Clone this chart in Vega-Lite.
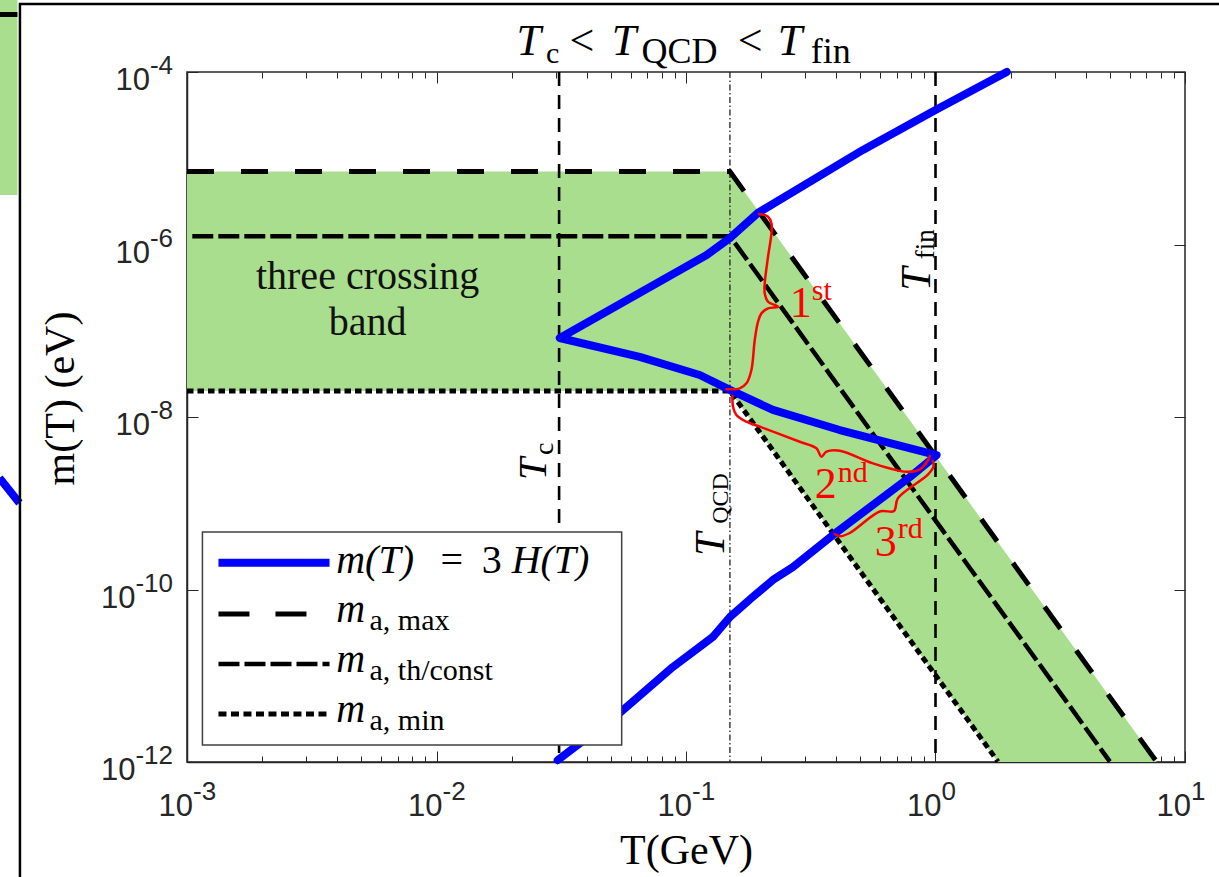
{
  "$schema": "https://vega.github.io/schema/vega-lite/v6.json",
  "width": 998,
  "height": 690,
  "autosize": {"type": "none"},
  "padding": {"left": 187, "top": 72, "right": 34, "bottom": 115},
  "background": "white",
  "config": {
    "view": {"stroke": "#262626", "strokeWidth": 1.5},
    "axis": {"grid": false, "labels": false, "tickColor": "#262626", "domainColor": "#262626", "domainWidth": 1.5, "titleFont": "Liberation Serif", "titleFontWeight": "normal", "titleColor": "#000000"}
  },
  "datasets": {
    "band": [
      {"T": 0.001, "m": 7e-6, "m2": 2e-8},
      {"T": 0.15, "m": 7e-6, "m2": 2e-8},
      {"T": 1.78, "m": 3.53e-10, "m2": 1e-12},
      {"T": 7.71, "m": 1e-12, "m2": 1e-12}
    ],
    "bounds": [
      {"s": "max", "o": 1, "T": 0.001, "m": 7e-6},
      {"s": "max", "o": 2, "T": 0.15, "m": 7e-6},
      {"s": "max", "o": 3, "T": 7.71, "m": 1e-12},
      {"s": "th", "o": 1, "T": 0.00105, "m": 1.25e-6},
      {"s": "th", "o": 2, "T": 0.15, "m": 1.25e-6},
      {"s": "th", "o": 3, "T": 5.0, "m": 1.01e-12},
      {"s": "min", "o": 1, "T": 0.001, "m": 2e-8},
      {"s": "min", "o": 2, "T": 0.15, "m": 2e-8},
      {"s": "min", "o": 3, "T": 1.78, "m": 1.01e-12}
    ],
    "curve": [
      {"o": 1, "T": 1.93, "m": 1.0e-4},
      {"o": 2, "T": 1.0, "m": 3.62e-5},
      {"o": 3, "T": 0.512, "m": 1.25e-5},
      {"o": 4, "T": 0.194, "m": 2.32e-6},
      {"o": 5, "T": 0.150, "m": 1.19e-6},
      {"o": 6, "T": 0.121, "m": 7.55e-7},
      {"o": 7, "T": 0.0312, "m": 8.24e-8},
      {"o": 8, "T": 0.0652, "m": 4.97e-8},
      {"o": 9, "T": 0.1135, "m": 3.07e-8},
      {"o": 10, "T": 0.150, "m": 2.06e-8},
      {"o": 11, "T": 0.223, "m": 1.21e-8},
      {"o": 12, "T": 0.413, "m": 7.06e-9},
      {"o": 13, "T": 1.01, "m": 3.62e-9},
      {"o": 14, "T": 0.789, "m": 2.01e-9},
      {"o": 15, "T": 0.388, "m": 4.28e-10},
      {"o": 16, "T": 0.268, "m": 1.82e-10},
      {"o": 17, "T": 0.223, "m": 1.29e-10},
      {"o": 18, "T": 0.185, "m": 8.18e-11},
      {"o": 19, "T": 0.150, "m": 4.8e-11},
      {"o": 20, "T": 0.128, "m": 2.81e-11},
      {"o": 21, "T": 0.0885, "m": 1.26e-11},
      {"o": 22, "T": 0.0542, "m": 3.7e-12},
      {"o": 23, "T": 0.0306, "m": 1.05e-12}
    ],
    "braces": [
      {"b": 1, "o": 1, "T": 0.1962, "m": 2.257e-6},
      {"b": 1, "o": 2, "T": 0.2132, "m": 2.101e-6},
      {"b": 1, "o": 3, "T": 0.2200, "m": 1.761e-6},
      {"b": 1, "o": 4, "T": 0.2200, "m": 1.349e-6},
      {"b": 1, "o": 5, "T": 0.2132, "m": 7.22e-7},
      {"b": 1, "o": 6, "T": 0.2068, "m": 3.55e-7},
      {"b": 1, "o": 7, "T": 0.2068, "m": 2.72e-7},
      {"b": 1, "o": 8, "T": 0.2132, "m": 2.17e-7},
      {"b": 1, "o": 9, "T": 0.2338, "m": 1.90e-7},
      {"b": 1, "o": 10, "T": 0.2132, "m": 1.82e-7},
      {"b": 1, "o": 11, "T": 0.2006, "m": 1.59e-7},
      {"b": 1, "o": 12, "T": 0.1944, "m": 1.273e-7},
      {"b": 1, "o": 13, "T": 0.1886, "m": 7.81e-8},
      {"b": 1, "o": 14, "T": 0.1829, "m": 3.51e-8},
      {"b": 1, "o": 15, "T": 0.1747, "m": 2.46e-8},
      {"b": 1, "o": 16, "T": 0.1642, "m": 2.15e-8},
      {"b": 1, "o": 17, "T": 0.1452, "m": 2.10e-8},
      {"b": 2, "o": 1, "T": 0.1535, "m": 1.752e-8},
      {"b": 2, "o": 2, "T": 0.1543, "m": 1.316e-8},
      {"b": 2, "o": 3, "T": 0.1592, "m": 1.055e-8},
      {"b": 2, "o": 4, "T": 0.1747, "m": 8.82e-9},
      {"b": 2, "o": 5, "T": 0.1975, "m": 7.72e-9},
      {"b": 2, "o": 6, "T": 0.2857, "m": 5.17e-9},
      {"b": 2, "o": 7, "T": 0.3333, "m": 4.34e-9},
      {"b": 2, "o": 8, "T": 0.3490, "m": 3.46e-9},
      {"b": 2, "o": 9, "T": 0.3655, "m": 3.96e-9},
      {"b": 2, "o": 10, "T": 0.4134, "m": 4.07e-9},
      {"b": 2, "o": 11, "T": 0.5622, "m": 2.90e-9},
      {"b": 2, "o": 12, "T": 0.7650, "m": 2.32e-9},
      {"b": 2, "o": 13, "T": 0.8650, "m": 2.47e-9},
      {"b": 2, "o": 14, "T": 0.9340, "m": 3.17e-9},
      {"b": 2, "o": 15, "T": 0.9487, "m": 3.53e-9},
      {"b": 3, "o": 1, "T": 0.9754, "m": 3.09e-9},
      {"b": 3, "o": 2, "T": 0.9808, "m": 2.65e-9},
      {"b": 3, "o": 3, "T": 0.9322, "m": 2.15e-9},
      {"b": 3, "o": 4, "T": 0.7072, "m": 1.147e-9},
      {"b": 3, "o": 5, "T": 0.6816, "m": 8.11e-10},
      {"b": 3, "o": 6, "T": 0.6013, "m": 8.07e-10},
      {"b": 3, "o": 7, "T": 0.4512, "m": 4.49e-10},
      {"b": 3, "o": 8, "T": 0.4149, "m": 4.15e-10},
      {"b": 3, "o": 9, "T": 0.3946, "m": 4.40e-10}
    ],
    "xticks": [
      {"T": 0.001, "e": "-3"}, {"T": 0.01, "e": "-2"}, {"T": 0.1, "e": "-1"}, {"T": 1, "e": "0"}, {"T": 10, "e": "1"}
    ],
    "yticks": [
      {"m": 1e-12, "e": "-12"}, {"m": 1e-10, "e": "-10"}, {"m": 1e-8, "e": "-8"}, {"m": 1e-6, "e": "-6"}, {"m": 0.0001, "e": "-4"}
    ]
  },
  "layer": [
    {
      "layer": [
        {
          "data": {"name": "band"},
          "mark": {"type": "area", "color": "#a9de8f", "opacity": 1},
          "encoding": {
            "x": {"field": "T", "type": "quantitative", "scale": {"type": "log", "domain": [0.001, 10], "nice": false},
              "axis": {"orient": "bottom", "title": "T(GeV)", "titleFontSize": 42, "titlePadding": 68,
                "values": [0.001,0.002,0.003,0.004,0.005,0.006,0.007,0.008,0.009,0.01,0.02,0.03,0.04,0.05,0.06,0.07,0.08,0.09,0.1,0.2,0.3,0.4,0.5,0.6,0.7,0.8,0.9,1,2,3,4,5,6,7,8,9,10],
                "tickWidth": 1,
                "tickSize": {"condition": {"test": "abs(log(datum.value)/LN10 - round(log(datum.value)/LN10)) < 0.001", "value": -11}, "value": -6}}},
            "y": {"field": "m", "type": "quantitative", "scale": {"type": "log", "domain": [1e-12, 0.0001], "nice": false},
              "axis": {"orient": "left", "title": "m(T) (eV)", "titleFontSize": 42, "titlePadding": 104, "titleY": 326,
                "values": [1e-12, 1e-10, 1e-8, 1e-6, 0.0001], "tickWidth": 1, "tickSize": -11}},
            "y2": {"field": "m2"}
          }
        },
        {
          "data": {"values": [{}]},
          "mark": {"type": "rule", "color": "black", "strokeWidth": 2.6, "strokeDash": [14, 9]},
          "encoding": {"x": {"datum": 0.031, "type": "quantitative"}}
        },
        {
          "data": {"values": [{}]},
          "mark": {"type": "rule", "color": "black", "strokeWidth": 2.6, "strokeDash": [14, 9]},
          "encoding": {"x": {"datum": 1.0, "type": "quantitative"}}
        },
        {
          "data": {"values": [{}]},
          "mark": {"type": "rule", "color": "#222222", "strokeWidth": 1.3, "strokeDash": [6, 2.5, 1.5, 2.5]},
          "encoding": {"x": {"datum": 0.15, "type": "quantitative"}}
        },
        {
          "data": {"name": "bounds"},
          "transform": [{"filter": "datum.s == 'min'"}],
          "mark": {"type": "line", "color": "black", "strokeWidth": 5, "strokeDash": [6.5, 4], "strokeCap": "butt"},
          "encoding": {"x": {"field": "T", "type": "quantitative"}, "y": {"field": "m", "type": "quantitative"}, "order": {"field": "o"}}
        },
        {
          "data": {"name": "bounds"},
          "transform": [{"filter": "datum.s == 'th'"}],
          "mark": {"type": "line", "color": "black", "strokeWidth": 4.5, "strokeDash": [21, 5], "strokeCap": "butt"},
          "encoding": {"x": {"field": "T", "type": "quantitative"}, "y": {"field": "m", "type": "quantitative"}, "order": {"field": "o"}}
        },
        {
          "data": {"name": "bounds"},
          "transform": [{"filter": "datum.s == 'max'"}],
          "mark": {"type": "line", "color": "black", "strokeWidth": 5, "strokeDash": [27, 27], "strokeCap": "butt"},
          "encoding": {"x": {"field": "T", "type": "quantitative"}, "y": {"field": "m", "type": "quantitative"}, "order": {"field": "o"}}
        },
        {
          "data": {"name": "curve"},
          "mark": {"type": "line", "color": "#0000ff", "strokeWidth": 8, "strokeCap": "round", "strokeJoin": "round"},
          "encoding": {"x": {"field": "T", "type": "quantitative"}, "y": {"field": "m", "type": "quantitative"}, "order": {"field": "o"}}
        },
        {
          "data": {"name": "braces"},
          "mark": {"type": "line", "color": "#ff0000", "strokeWidth": 2.5, "interpolate": "catmull-rom", "strokeCap": "round"},
          "encoding": {"x": {"field": "T", "type": "quantitative"}, "y": {"field": "m", "type": "quantitative"}, "detail": {"field": "b"}, "order": {"field": "o"}}
        },
        {
          "data": {"name": "xticks"},
          "mark": {"type": "text", "text": "10", "font": "Liberation Sans", "fontSize": 31, "align": "right", "baseline": "alphabetic", "dx": 6, "dy": 54, "color": "#262626"},
          "encoding": {"x": {"field": "T", "type": "quantitative"}, "y": {"datum": 1e-12, "type": "quantitative"}}
        },
        {
          "data": {"name": "xticks"},
          "mark": {"type": "text", "font": "Liberation Sans", "fontSize": 26, "align": "left", "baseline": "alphabetic", "dx": 6, "dy": 38, "color": "#262626"},
          "encoding": {"x": {"field": "T", "type": "quantitative"}, "y": {"datum": 1e-12, "type": "quantitative"}, "text": {"field": "e"}}
        },
        {
          "data": {"name": "yticks"},
          "transform": [{"filter": "length(datum.e) == 2"}],
          "mark": {"type": "text", "text": "10", "font": "Liberation Sans", "fontSize": 31, "align": "right", "baseline": "alphabetic", "dx": -37, "dy": 18, "color": "#262626"},
          "encoding": {"x": {"datum": 0.001, "type": "quantitative"}, "y": {"field": "m", "type": "quantitative"}}
        },
        {
          "data": {"name": "yticks"},
          "transform": [{"filter": "length(datum.e) == 3"}],
          "mark": {"type": "text", "text": "10", "font": "Liberation Sans", "fontSize": 31, "align": "right", "baseline": "alphabetic", "dx": -51.5, "dy": 18, "color": "#262626"},
          "encoding": {"x": {"datum": 0.001, "type": "quantitative"}, "y": {"field": "m", "type": "quantitative"}}
        },
        {
          "data": {"name": "yticks"},
          "mark": {"type": "text", "font": "Liberation Sans", "fontSize": 26, "align": "right", "baseline": "alphabetic", "dx": -14, "dy": 2, "color": "#262626"},
          "encoding": {"x": {"datum": 0.001, "type": "quantitative"}, "y": {"field": "m", "type": "quantitative"}, "text": {"field": "e"}}
        },
        {
          "data": {"values": [{}]},
          "mark": {"type": "text", "text": ["three crossing", "band"], "font": "Liberation Serif", "fontSize": 40, "lineHeight": 46, "align": "center", "baseline": "alphabetic", "color": "#111111"},
          "encoding": {"x": {"datum": 0.005293, "type": "quantitative"}, "y": {"datum": 3.05e-7, "type": "quantitative"}}
        },
        {"data": {"values": [{}]}, "mark": {"type": "text", "text": "1", "font": "Liberation Serif", "fontSize": 44, "align": "left", "baseline": "alphabetic", "color": "#ff0000"}, "encoding": {"x": {"datum": 0.2605, "type": "quantitative"}, "y": {"datum": 1.443e-7, "type": "quantitative"}}},
        {"data": {"values": [{}]}, "mark": {"type": "text", "text": "st", "font": "Liberation Serif", "fontSize": 30, "align": "left", "baseline": "alphabetic", "color": "#ff0000"}, "encoding": {"x": {"datum": 0.3192, "type": "quantitative"}, "y": {"datum": 2.273e-7, "type": "quantitative"}}},
        {"data": {"values": [{}]}, "mark": {"type": "text", "text": "2", "font": "Liberation Serif", "fontSize": 44, "align": "left", "baseline": "alphabetic", "color": "#ff0000"}, "encoding": {"x": {"datum": 0.3281, "type": "quantitative"}, "y": {"datum": 1.150e-9, "type": "quantitative"}}},
        {"data": {"values": [{}]}, "mark": {"type": "text", "text": "nd", "font": "Liberation Serif", "fontSize": 30, "align": "left", "baseline": "alphabetic", "color": "#ff0000"}, "encoding": {"x": {"datum": 0.4057, "type": "quantitative"}, "y": {"datum": 1.764e-9, "type": "quantitative"}}},
        {"data": {"values": [{}]}, "mark": {"type": "text", "text": "3", "font": "Liberation Serif", "fontSize": 44, "align": "left", "baseline": "alphabetic", "color": "#ff0000"}, "encoding": {"x": {"datum": 0.5709, "type": "quantitative"}, "y": {"datum": 2.445e-10, "type": "quantitative"}}},
        {"data": {"values": [{}]}, "mark": {"type": "text", "text": "rd", "font": "Liberation Serif", "fontSize": 30, "align": "left", "baseline": "alphabetic", "color": "#ff0000"}, "encoding": {"x": {"datum": 0.7061, "type": "quantitative"}, "y": {"datum": 3.955e-10, "type": "quantitative"}}},
        {"data": {"values": [{}]}, "mark": {"type": "text", "text": "T", "font": "Liberation Serif", "fontSize": 40, "fontStyle": "italic", "angle": 270, "align": "left", "baseline": "alphabetic", "color": "black"}, "encoding": {"x": {"datum": 0.02738, "type": "quantitative"}, "y": {"datum": 1.86e-9, "type": "quantitative"}}},
        {"data": {"values": [{}]}, "mark": {"type": "text", "text": "c", "font": "Liberation Serif", "fontSize": 28, "angle": 270, "align": "left", "baseline": "alphabetic", "color": "black"}, "encoding": {"x": {"datum": 0.02921, "type": "quantitative"}, "y": {"datum": 3.63e-9, "type": "quantitative"}}},
        {"data": {"values": [{}]}, "mark": {"type": "text", "text": "T", "font": "Liberation Serif", "fontSize": 42, "fontStyle": "italic", "angle": 270, "align": "left", "baseline": "alphabetic", "color": "black"}, "encoding": {"x": {"datum": 0.1416, "type": "quantitative"}, "y": {"datum": 2.445e-10, "type": "quantitative"}}},
        {"data": {"values": [{}]}, "mark": {"type": "text", "text": "QCD", "font": "Liberation Serif", "fontSize": 24, "angle": 270, "align": "left", "baseline": "alphabetic", "color": "black"}, "encoding": {"x": {"datum": 0.1470, "type": "quantitative"}, "y": {"datum": 5.77e-10, "type": "quantitative"}}},
        {"data": {"values": [{}]}, "mark": {"type": "text", "text": "T", "font": "Liberation Serif", "fontSize": 42, "fontStyle": "italic", "angle": 270, "align": "left", "baseline": "alphabetic", "color": "black"}, "encoding": {"x": {"datum": 0.9487, "type": "quantitative"}, "y": {"datum": 2.90e-7, "type": "quantitative"}}},
        {"data": {"values": [{}]}, "mark": {"type": "text", "text": "fin", "font": "Liberation Serif", "fontSize": 27, "angle": 270, "align": "left", "baseline": "alphabetic", "color": "black"}, "encoding": {"x": {"datum": 0.9844, "type": "quantitative"}, "y": {"datum": 6.74e-7, "type": "quantitative"}}},
        {"data": {"values": [{}]}, "mark": {"type": "text", "text": "T", "font": "Liberation Serif", "fontSize": 44, "fontStyle": "italic", "align": "left", "baseline": "alphabetic", "color": "black"}, "encoding": {"x": {"datum": 0.02094, "type": "quantitative"}, "y": {"datum": 1.574e-4, "type": "quantitative"}}},
        {"data": {"values": [{}]}, "mark": {"type": "text", "text": "c", "font": "Liberation Serif", "fontSize": 30, "align": "left", "baseline": "alphabetic", "color": "black"}, "encoding": {"x": {"datum": 0.02745, "type": "quantitative"}, "y": {"datum": 1.271e-4, "type": "quantitative"}}},
        {"data": {"values": [{}]}, "mark": {"type": "text", "text": "<", "font": "Liberation Serif", "fontSize": 44, "align": "left", "baseline": "alphabetic", "color": "black"}, "encoding": {"x": {"datum": 0.03416, "type": "quantitative"}, "y": {"datum": 1.574e-4, "type": "quantitative"}}},
        {"data": {"values": [{}]}, "mark": {"type": "text", "text": "T", "font": "Liberation Serif", "fontSize": 44, "fontStyle": "italic", "align": "left", "baseline": "alphabetic", "color": "black"}, "encoding": {"x": {"datum": 0.05038, "type": "quantitative"}, "y": {"datum": 1.574e-4, "type": "quantitative"}}},
        {"data": {"values": [{}]}, "mark": {"type": "text", "text": "QCD", "font": "Liberation Serif", "fontSize": 36, "align": "left", "baseline": "alphabetic", "color": "black"}, "encoding": {"x": {"datum": 0.06636, "type": "quantitative"}, "y": {"datum": 1.271e-4, "type": "quantitative"}}},
        {"data": {"values": [{}]}, "mark": {"type": "text", "text": "<", "font": "Liberation Serif", "fontSize": 44, "align": "left", "baseline": "alphabetic", "color": "black"}, "encoding": {"x": {"datum": 0.1611, "type": "quantitative"}, "y": {"datum": 1.574e-4, "type": "quantitative"}}},
        {"data": {"values": [{}]}, "mark": {"type": "text", "text": "T", "font": "Liberation Serif", "fontSize": 44, "fontStyle": "italic", "align": "left", "baseline": "alphabetic", "color": "black"}, "encoding": {"x": {"datum": 0.2331, "type": "quantitative"}, "y": {"datum": 1.574e-4, "type": "quantitative"}}},
        {"data": {"values": [{}]}, "mark": {"type": "text", "text": "fin", "font": "Liberation Serif", "fontSize": 36, "align": "left", "baseline": "alphabetic", "color": "black"}, "encoding": {"x": {"datum": 0.3161, "type": "quantitative"}, "y": {"datum": 1.271e-4, "type": "quantitative"}}},
        {
          "data": {"values": [{}]},
          "mark": {"type": "rect", "fill": "white", "stroke": "#404040", "strokeWidth": 1.5},
          "encoding": {"x": {"datum": 0.001153, "type": "quantitative"}, "x2": {"datum": 0.05523}, "y": {"datum": 4.64e-10, "type": "quantitative"}, "y2": {"datum": 1.574e-12}}
        },
        {"data": {"values": [{}]}, "mark": {"type": "rule", "color": "#0000ff", "strokeWidth": 8}, "encoding": {"x": {"datum": 0.001337, "type": "quantitative"}, "x2": {"datum": 0.003726}, "y": {"datum": 2.045e-10, "type": "quantitative"}}},
        {"data": {"values": [{}]}, "mark": {"type": "rule", "color": "black", "strokeWidth": 5, "strokeDash": [31, 26]}, "encoding": {"x": {"datum": 0.001337, "type": "quantitative"}, "x2": {"datum": 0.003726}, "y": {"datum": 5.20e-11, "type": "quantitative"}}},
        {"data": {"values": [{}]}, "mark": {"type": "rule", "color": "black", "strokeWidth": 4.5, "strokeDash": [21, 5]}, "encoding": {"x": {"datum": 0.001337, "type": "quantitative"}, "x2": {"datum": 0.003726}, "y": {"datum": 1.368e-11, "type": "quantitative"}}},
        {"data": {"values": [{}]}, "mark": {"type": "rule", "color": "black", "strokeWidth": 5, "strokeDash": [8, 4.5]}, "encoding": {"x": {"datum": 0.001337, "type": "quantitative"}, "x2": {"datum": 0.003726}, "y": {"datum": 3.60e-12, "type": "quantitative"}}},
        {"data": {"values": [{}]}, "mark": {"type": "text", "text": "m(T)", "font": "Liberation Serif", "fontSize": 40, "fontStyle": "italic", "align": "left", "baseline": "alphabetic", "color": "black"}, "encoding": {"x": {"datum": 0.003964, "type": "quantitative"}, "y": {"datum": 1.553e-10, "type": "quantitative"}}},
        {"data": {"values": [{}]}, "mark": {"type": "text", "text": "=", "font": "Liberation Serif", "fontSize": 40, "align": "center", "baseline": "alphabetic", "color": "black"}, "encoding": {"x": {"datum": 0.011523, "type": "quantitative"}, "y": {"datum": 1.553e-10, "type": "quantitative"}}},
        {"data": {"values": [{}]}, "mark": {"type": "text", "text": "3", "font": "Liberation Serif", "fontSize": 40, "align": "center", "baseline": "alphabetic", "color": "black"}, "encoding": {"x": {"datum": 0.016667, "type": "quantitative"}, "y": {"datum": 1.553e-10, "type": "quantitative"}}},
        {"data": {"values": [{}]}, "mark": {"type": "text", "text": "H(T)", "font": "Liberation Serif", "fontSize": 40, "fontStyle": "italic", "align": "left", "baseline": "alphabetic", "color": "black"}, "encoding": {"x": {"datum": 0.020005, "type": "quantitative"}, "y": {"datum": 1.553e-10, "type": "quantitative"}}},
        {"data": {"values": [{}]}, "mark": {"type": "text", "text": "m", "font": "Liberation Serif", "fontSize": 40, "fontStyle": "italic", "align": "left", "baseline": "alphabetic", "color": "black"}, "encoding": {"x": {"datum": 0.003964, "type": "quantitative"}, "y": {"datum": 4.23e-11, "type": "quantitative"}}},
        {"data": {"values": [{}]}, "mark": {"type": "text", "text": "a, max", "font": "Liberation Serif", "fontSize": 30, "align": "left", "baseline": "alphabetic", "color": "black"}, "encoding": {"x": {"datum": 0.005391, "type": "quantitative"}, "y": {"datum": 3.39e-11, "type": "quantitative"}}},
        {"data": {"values": [{}]}, "mark": {"type": "text", "text": "m", "font": "Liberation Serif", "fontSize": 40, "fontStyle": "italic", "align": "left", "baseline": "alphabetic", "color": "black"}, "encoding": {"x": {"datum": 0.003964, "type": "quantitative"}, "y": {"datum": 1.114e-11, "type": "quantitative"}}},
        {"data": {"values": [{}]}, "mark": {"type": "text", "text": "a, th/const", "font": "Liberation Serif", "fontSize": 30, "align": "left", "baseline": "alphabetic", "color": "black"}, "encoding": {"x": {"datum": 0.005391, "type": "quantitative"}, "y": {"datum": 8.93e-12, "type": "quantitative"}}},
        {"data": {"values": [{}]}, "mark": {"type": "text", "text": "m", "font": "Liberation Serif", "fontSize": 40, "fontStyle": "italic", "align": "left", "baseline": "alphabetic", "color": "black"}, "encoding": {"x": {"datum": 0.003964, "type": "quantitative"}, "y": {"datum": 2.93e-12, "type": "quantitative"}}},
        {"data": {"values": [{}]}, "mark": {"type": "text", "text": "a, min", "font": "Liberation Serif", "fontSize": 30, "align": "left", "baseline": "alphabetic", "color": "black"}, "encoding": {"x": {"datum": 0.005391, "type": "quantitative"}, "y": {"datum": 2.35e-12, "type": "quantitative"}}},
        {
          "data": {"values": [{}]},
          "mark": {"type": "rect", "fill": "#a9de8f", "stroke": null},
          "encoding": {"x": {"datum": 0.0001771, "type": "quantitative"}, "x2": {"datum": 0.0002091}, "y": {"datum": 0.001, "type": "quantitative"}, "y2": {"datum": 3.75e-6}}
        },
        {"data": {"values": [{}]}, "mark": {"type": "rule", "color": "black", "strokeWidth": 5}, "encoding": {"x": {"datum": 0.0001771, "type": "quantitative"}, "x2": {"datum": 0.0002091}, "y": {"datum": 0.000464, "type": "quantitative"}}},
        {"data": {"values": [{}]}, "mark": {"type": "rule", "color": "#0000ff", "strokeWidth": 8}, "encoding": {"x": {"datum": 0.0001771, "type": "quantitative"}, "x2": {"datum": 0.000213}, "y": {"datum": 1.963e-9, "type": "quantitative"}, "y2": {"datum": 1.007e-9}}},
        {
          "data": {"values": [{}]},
          "mark": {"type": "rect", "fill": null, "fillOpacity": 0, "stroke": "black", "strokeWidth": 2.5},
          "encoding": {"x": {"datum": 0.000214, "type": "quantitative"}, "x2": {"datum": 1000}, "y": {"datum": 0.000614, "type": "quantitative"}, "y2": {"datum": 1e-16}}
        }
      ]
    },
    {
      "data": {"values": [{"T": 1, "m": 1e-8}]},
      "mark": {"type": "point", "opacity": 0},
      "encoding": {
        "x": {"field": "T", "type": "quantitative", "scale": {"type": "log", "domain": [0.001, 10], "nice": false},
          "axis": {"orient": "top", "labels": false, "title": null, "domain": false,
            "values": [0.001,0.002,0.003,0.004,0.005,0.006,0.007,0.008,0.009,0.01,0.02,0.03,0.04,0.05,0.06,0.07,0.08,0.09,0.1,0.2,0.3,0.4,0.5,0.6,0.7,0.8,0.9,1,2,3,4,5,6,7,8,9,10],
            "tickWidth": 1,
            "tickSize": {"condition": {"test": "abs(log(datum.value)/LN10 - round(log(datum.value)/LN10)) < 0.001", "value": -11}, "value": -6}}},
        "y": {"field": "m", "type": "quantitative", "scale": {"type": "log", "domain": [1e-12, 0.0001], "nice": false},
          "axis": {"orient": "right", "labels": false, "title": null, "domain": false, "values": [1e-12, 1e-10, 1e-8, 1e-6, 0.0001], "tickWidth": 1, "tickSize": -11}}
      }
    }
  ],
  "resolve": {"axis": {"x": "independent", "y": "independent"}}
}
